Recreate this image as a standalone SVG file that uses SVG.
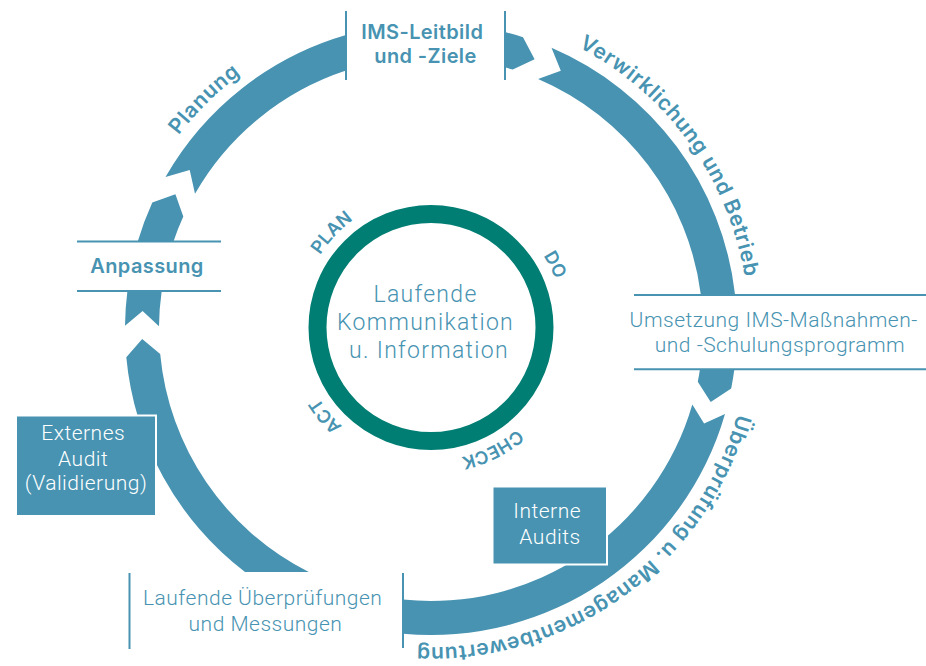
<svg xmlns="http://www.w3.org/2000/svg" width="926" height="666" viewBox="0 0 926 666">
  <style>
    .band { fill: #4793B1; }
    .rule { stroke: #4793B1; stroke-width: 2; fill: none; }
    .box { fill: #4793B1; stroke: #FFFFFF; stroke-width: 2; }
    .bold { font-family: Inter, "Liberation Sans", sans-serif; font-weight: 600; fill: #4793B1; letter-spacing: 0.4px; }
    .light { font-family: Roboto, Inter, "Liberation Sans", sans-serif; font-weight: 300; fill: #4793B1; letter-spacing: 0.5px; }
    .center { letter-spacing: 1.3px; }
    .white { fill: #FFFFFF; }
    .arcl { font-family: Inter, "Liberation Sans", sans-serif; font-weight: 600; fill: #4793B1; font-size: 21px; letter-spacing: 0.7px; }
    .pdca { font-family: Inter, "Liberation Sans", sans-serif; font-weight: 600; fill: #4793B1; font-size: 18px; }
  </style>
  <defs>
    <path id="outerTextPath" d="M113,329 A318,318 0 1 1 749,329 A318,318 0 1 1 113,329"/>
    <path id="innerTextPath" d="M298.5,327.5 A133,133 0 1 1 564.5,327.5 A133,133 0 1 1 298.5,327.5"/>
  </defs>

  <g id="connectors">
    <path id="seg-planung" class="band" d="M165.5,176.9 A306,306 0 0 1 346,35 L346,70.6 A272,272 0 0 0 195,193.8 L189.7,169.9 Z"/>
    <path id="seg-leitbild-out" class="band" d="M505,32.1 A306,306 0 0 1 523,37.2 L534.6,59.2 L512.8,69.6 A272,272 0 0 0 505,67.3 Z"/>
    <path id="seg-verwirklichung" class="band" d="M551.5,47.8 A306,306 0 0 1 735.1,295 L700.9,295 A272,272 0 0 0 538.1,79 L560.8,70.8 Z"/>
    <path id="seg-umsetzung-out" class="band" d="M734.4,369 A306,306 0 0 1 731.2,388.4 L710.7,401.9 L697.8,381.8 A272,272 0 0 0 700,369 Z"/>
    <path id="seg-ueberpruefung" class="band" d="M725,413.9 A306,306 0 0 1 403,633.7 L403,599.6 A272,272 0 0 0 692.3,404.4 L704.1,423.6 Z"/>
    <path id="seg-laufend" class="band" d="M245,572 A306,306 0 0 1 126.3,357.3 L142.2,339.1 L160.2,354.1 A272,272 0 0 0 308.8,572 Z"/>
    <path id="seg-anpassung-in" class="band" d="M125,325.8 A306,306 0 0 1 127.4,291 L161.7,291 A272,272 0 0 0 159,326.2 L142.6,310.9 Z"/>
    <path id="seg-anpassung-out" class="band" d="M137.6,242 A306,306 0 0 1 152.3,202.6 L175.4,194.2 L183.3,216.6 A272,272 0 0 0 173.3,242 Z"/>
    <text class="arcl"><textPath href="#outerTextPath" startOffset="252" text-anchor="middle">Planung</textPath></text>
    <text class="arcl"><textPath href="#outerTextPath" startOffset="800" text-anchor="middle">Verwirklichung und Betrieb</textPath></text>
    <text class="arcl"><textPath href="#outerTextPath" startOffset="1299" text-anchor="middle">Überprüfung u. Managementbewertung</textPath></text>
  </g>

  <g id="node-center">
    <circle cx="431" cy="327.5" r="113.5" fill="none" stroke="#007E73" stroke-width="18"/>
    <text class="light center" font-size="23" text-anchor="middle">
      <tspan x="429" y="301.7">Laufende</tspan>
      <tspan x="429" y="330">Kommunikation</tspan>
      <tspan x="429" y="358.3">u. Information</tspan>
    </text>
    <text class="pdca"><textPath href="#innerTextPath" startOffset="101" text-anchor="middle">PLAN</textPath></text>
    <text class="pdca"><textPath href="#innerTextPath" startOffset="355" text-anchor="middle">DO</textPath></text>
    <text class="pdca"><textPath href="#innerTextPath" startOffset="565" text-anchor="middle">CHECK</textPath></text>
    <text class="pdca"><textPath href="#innerTextPath" startOffset="743" text-anchor="middle">ACT</textPath></text>
  </g>

  <g id="node-leitbild">
    <line class="rule" x1="346" y1="11" x2="346" y2="80"/>
    <line class="rule" x1="505" y1="11" x2="505" y2="80"/>
    <text class="bold" font-size="20" text-anchor="middle">
      <tspan x="425" y="39">IMS-Leitbild</tspan>
      <tspan x="425.5" y="63.3">und -Ziele</tspan>
    </text>
  </g>

  <g id="node-anpassung">
    <line class="rule" x1="77" y1="241.5" x2="221" y2="241.5"/>
    <line class="rule" x1="77" y1="291" x2="221" y2="291"/>
    <text class="bold" font-size="20" text-anchor="middle" x="147" y="273.3">Anpassung</text>
  </g>

  <g id="node-umsetzung">
    <line class="rule" x1="634" y1="295" x2="926" y2="295"/>
    <line class="rule" x1="634" y1="369.3" x2="926" y2="369.3"/>
    <text class="light" font-size="21" text-anchor="middle">
      <tspan x="776.5" y="326.7">Umsetzung IMS-Maßnahmen-</tspan>
      <tspan x="780" y="351.7">und -Schulungsprogramm</tspan>
    </text>
  </g>

  <g id="node-laufende">
    <line class="rule" x1="129.5" y1="573" x2="129.5" y2="649"/>
    <line class="rule" x1="403" y1="573" x2="403" y2="648"/>
    <text class="light" font-size="21" text-anchor="middle">
      <tspan x="265.5" y="605">Laufende Überprüfungen</tspan>
      <tspan x="265.5" y="630.7">und Messungen</tspan>
    </text>
  </g>

  <g id="node-externes-audit">
    <rect class="box" x="16" y="415.5" width="140" height="100.5"/>
    <text class="light white" font-size="21" text-anchor="middle">
      <tspan x="86" y="439.7">Externes</tspan>
      <tspan x="86" y="465.7">Audit</tspan>
      <tspan x="86" y="489.7">(Validierung)</tspan>
    </text>
  </g>

  <g id="node-interne-audits">
    <rect class="box" x="492.5" y="486.5" width="114.5" height="78"/>
    <text class="light white" font-size="21" text-anchor="middle">
      <tspan x="550" y="518">Interne</tspan>
      <tspan x="550" y="543.7">Audits</tspan>
    </text>
  </g>
</svg>
